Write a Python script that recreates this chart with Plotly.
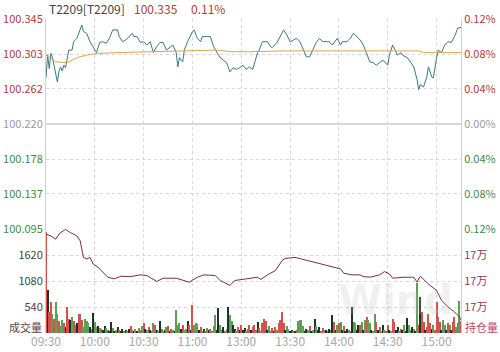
import plotly.graph_objects as go

# ---------------- data ----------------
tick_min = [0, 30, 60, 90, 120, 150, 180, 210, 240]
tick_labels = ["09:30", "10:00", "10:30", "11:00", "13:00", "13:30", "14:00", "14:30", "15:00"]

price_ticks = [100.095, 100.137, 100.178, 100.220, 100.262, 100.303, 100.345]
pct_labels = ["0.12%", "0.08%", "0.04%", "0.00%", "0.04%", "0.08%", "0.12%"]

price_min = [0, 1, 2, 3, 4, 7, 8, 9, 10, 11,
             12, 13, 14, 16, 17, 19, 21, 22, 23, 25,
             27, 29, 31, 33, 35, 37, 39, 41, 44, 45,
             47, 49, 50, 53, 54, 56, 58, 60, 62, 64,
             66, 68, 70, 72, 74, 76, 78, 80, 81, 82,
             84, 85, 87, 90, 91, 93, 95, 96, 99, 101,
             103, 105, 107, 109, 111, 113, 115, 117, 119, 121,
             123, 125, 127, 130, 131, 133, 136, 138, 139, 142,
             144, 146, 148, 150, 152, 154, 156, 158, 160, 162,
             164, 166, 168, 170, 173, 174, 176, 179, 181, 182,
             185, 187, 189, 191, 193, 195, 197, 199, 201, 203,
             205, 207, 210, 211, 213, 216, 218, 219, 222, 224,
             226, 228, 229, 230, 232, 234, 235, 237, 238, 240,
             241, 243, 245, 247, 249, 251, 253, 255]
price_val = [100.275, 100.302, 100.286, 100.304, 100.299, 100.270, 100.283, 100.288, 100.283, 100.290,
             100.287, 100.296, 100.308, 100.308, 100.318, 100.322, 100.332, 100.338, 100.330, 100.328,
             100.318, 100.312, 100.305, 100.317, 100.318, 100.316, 100.322, 100.332, 100.332, 100.324,
             100.318, 100.320, 100.322, 100.328, 100.324, 100.324, 100.317, 100.318, 100.314, 100.318,
             100.305, 100.312, 100.317, 100.317, 100.308, 100.311, 100.314, 100.305, 100.288, 100.299,
             100.294, 100.308, 100.318, 100.330, 100.332, 100.322, 100.318, 100.324, 100.324, 100.324,
             100.312, 100.306, 100.299, 100.296, 100.293, 100.282, 100.287, 100.285, 100.287, 100.290,
             100.285, 100.288, 100.285, 100.305, 100.308, 100.318, 100.318, 100.312, 100.311, 100.317,
             100.324, 100.332, 100.326, 100.318, 100.320, 100.322, 100.318, 100.308, 100.300, 100.300,
             100.308, 100.317, 100.322, 100.318, 100.318, 100.318, 100.314, 100.322, 100.314, 100.318,
             100.318, 100.322, 100.328, 100.324, 100.320, 100.314, 100.305, 100.294, 100.293, 100.290,
             100.293, 100.296, 100.290, 100.302, 100.314, 100.302, 100.305, 100.302, 100.299, 100.294,
             100.288, 100.273, 100.261, 100.267, 100.264, 100.276, 100.288, 100.276, 100.275, 100.299,
             100.308, 100.305, 100.314, 100.318, 100.317, 100.324, 100.334, 100.335]

avg_min = [0, 6, 13, 19, 25, 31, 44, 64, 95, 105, 115, 125, 146, 181, 229, 232, 255]
avg_val = [100.302, 100.294, 100.293, 100.299, 100.302, 100.304, 100.305, 100.306, 100.307,
           100.308, 100.306, 100.306, 100.307, 100.307, 100.307, 100.305, 100.305]

oi_min = [0, 3, 6, 8, 12, 15, 19, 21, 23, 25,
          27, 29, 32, 35, 38, 42, 46, 52, 58, 62,
          65, 68, 72, 80, 88, 93, 97, 104, 107, 113,
          116, 123, 128, 130, 132, 136, 141, 145, 147, 153,
          157, 165, 173, 181, 183, 188, 193, 195, 199, 205,
          208, 211, 213, 220, 226, 228, 230, 232, 236, 240,
          243, 247, 251, 254, 255]
oi_val = [172439, 172387, 172286, 172448, 172591, 172488, 172387, 172235, 171726, 171677,
          171726, 171524, 171421, 171268, 171116, 171067, 171146, 171137, 171189, 171168,
          171067, 170985, 171086, 171086, 170964, 171116, 171189, 171168, 171015, 170863,
          171015, 171067, 171116, 171116, 171046, 171189, 171320, 171625, 171695, 171726,
          171677, 171573, 171473, 171372, 171238, 171189, 171189, 171137, 171116, 171189,
          171290, 171220, 171086, 171116, 171116, 170964, 171146, 171046, 170863, 170711,
          170406, 170202, 170049, 169897, 169796]
oi_ticks = [170200, 171000, 171800]

vol_ticks = [540, 1080, 1620]
vols = [2100, 900, 440, 640, 400, 300, 640, 400, 250, 150, 280, 200, 120, 540, 300, 280,
        330, 250, 160, 200, 390, 390, 260, 120, 300, 250, 200, 130, 90, 420, 220, 130,
        150, 100, 90, 60, 140, 110, 60, 50, 220, 100, 40, 70, 120, 60, 40, 90,
        40, 60, 30, 80, 140, 60, 30, 90, 50, 110, 60, 150, 200, 90, 60, 130,
        60, 40, 200, 170, 60, 40, 240, 80, 30, 60, 115, 140, 50, 90, 60, 40,
        470, 170, 200, 80, 170, 60, 90, 240, 170, 60, 575, 170, 200, 180, 60, 120,
        50, 80, 40, 110, 60, 90, 40, 150, 370, 60, 510, 170, 60, 120, 40, 80,
        530, 370, 250, 170, 90, 40, 120, 60, 170, 60, 100, 40, 90, 170, 60, 120,
        170, 60, 230, 100, 40, 200, 300, 250, 60, 150, 50, 110, 40, 120, 60, 200,
        260, 430, 200, 60, 150, 90, 40, 60, 30, 40, 60, 250, 270, 270, 150, 40,
        90, 60, 150, 40, 60, 300, 150, 60, 120, 40, 100, 60, 70, 40, 90, 60,
        370, 230, 60, 170, 200, 230, 60, 150, 40, 90, 60, 40, 540, 230, 200, 60,
        170, 170, 230, 60, 270, 330, 270, 200, 60, 40, 390, 230, 60, 120, 40, 170,
        60, 40, 170, 60, 30, 300, 230, 60, 120, 40, 90, 60, 170, 40, 320, 170,
        60, 120, 90, 40, 1040, 170, 740, 440, 230, 60, 120, 390, 200, 90, 170, 60,
        650, 330, 230, 60, 270, 170, 60, 200, 170, 60, 230, 330, 120, 200, 675, 250]
vol_dir = ("rkrrgrggrggrkrrk" "grrkrrrggggkgkgg" "kgrkkgrkkgkgkrkk" "gkgkrrkgkgrgrkgr"
           "kggrkgkrgkgrkrgk" "grgkrggkrkrgggkr" "gkrgkrgggkkggkrg" "kggkkgrkrkkgrrkr"
           "rgkrgrrrkgrrkrgr" "rrrkggkkgkrggggk" "kgrkgkgkkrrgkrkg" "krkgrgkrkkgrkggk"
           "krgkgrggkrgrkrgk" "grrkgrrkkgrkgkkg" "gkgkgrkrrkrrrkgr" "rrrkggkrgkrrgrgr")
vol_min = list(range(len(vols)))

assert len(price_min) == len(price_val)
assert len(oi_min) == len(oi_val)
assert len(vols) == len(vol_dir)

# ---------------- styling ----------------
W, H = 500, 352
def fx(p): return p / W
def fy(p): return 1 - p / H

RED = "#b53a3a"
GREEN = "#3f8a3f"
GRAY = "#9a9a9a"
MAROON = "#9b3552"
FONT = "Noto Sans CJK SC, Noto Sans, sans-serif"
GRID = "#d6d6d6"

dir_color = {"r": "#d2524f", "g": "#5f9f55", "k": "#1f3428"}
bar_colors = [dir_color[c] for c in vol_dir]

def span(t, c):
    return f'<span style="color:{c}">{t}</span>'

price_colors = [GREEN, GREEN, GREEN, GRAY, RED, RED, RED]
price_text = [span(f"{v:.3f}", c) for v, c in zip(price_ticks, price_colors)]
pct_text = [span(t, c) for t, c in zip(pct_labels, price_colors)]
vol_text = [span(str(v), "#444") for v in vol_ticks]
oi_text = [span("17万", MAROON) for _ in oi_ticks]

fig = go.Figure()
fig.add_trace(go.Scatter(x=price_min, y=price_val, mode="lines",
                         line=dict(color="#3d7785", width=1), xaxis="x", yaxis="y"))
fig.add_trace(go.Scatter(x=avg_min, y=avg_val, mode="lines",
                         line=dict(color="#d8a64c", width=1), xaxis="x", yaxis="y"))
fig.add_trace(go.Scatter(x=price_min, y=price_val, mode="lines", hoverinfo="skip",
                         line=dict(color="rgba(0,0,0,0)", width=0), xaxis="x", yaxis="y2"))
fig.add_trace(go.Bar(x=vol_min, y=vols, marker=dict(color=bar_colors, line=dict(width=0)),
                     width=0.65, xaxis="x2", yaxis="y3"))
fig.add_trace(go.Scatter(x=oi_min, y=oi_val, mode="lines",
                         line=dict(color="#7a2c4c", width=1), xaxis="x2", yaxis="y4"))

xcommon = dict(domain=[fx(46), fx(461)], range=[0, 255], tickvals=tick_min,
               showgrid=True, gridcolor=GRID, griddash="dot", gridwidth=1, automargin=False,
               zeroline=False, ticks="", showline=False, fixedrange=True)
ycommon = dict(zeroline=False, ticks="", showline=True, linecolor="#d0d0d0", linewidth=1,
               automargin=False, tickfont=dict(size=11, family=FONT), fixedrange=True)

fig.update_layout(
    width=W, height=H, margin=dict(l=0, r=0, t=0, b=0, autoexpand=False),
    paper_bgcolor="white", plot_bgcolor="white", showlegend=False,
    font=dict(family=FONT, size=12, color="#444"),
    bargap=0,
    xaxis=dict(anchor="y", showticklabels=False, **xcommon),
    xaxis2=dict(anchor="y3", ticktext=tick_labels,
                tickfont=dict(size=12, color="#a8a8a8", family=FONT), **xcommon),
    yaxis=dict(domain=[fy(229), fy(19)], range=[100.095, 100.345], anchor="x", side="left",
               tickvals=price_ticks, ticktext=price_text,
               showgrid=True, gridcolor=GRID, griddash="dot", **ycommon),
    yaxis2=dict(overlaying="y", anchor="x", side="right", range=[100.095, 100.345],
                tickvals=price_ticks, ticktext=pct_text, showgrid=False, **ycommon),
    yaxis3=dict(domain=[fy(333), fy(229)], range=[0, 2160], anchor="x2", side="left",
                tickvals=vol_ticks, ticktext=vol_text,
                showgrid=True, gridcolor=GRID, griddash="dot", **ycommon),
    yaxis4=dict(overlaying="y3", anchor="x2", side="right", range=[169400, 172600],
                tickvals=oi_ticks, ticktext=oi_text, showgrid=False, **ycommon),
)

fig.add_shape(type="line", xref="paper", yref="y", x0=fx(46), x1=fx(461),
              y0=100.220, y1=100.220, line=dict(color="#d6d6d6", width=2))

ann = [
    dict(text="T2209[T2209]", x=fx(47), y=fy(9), xanchor="left", font=dict(color="#444", size=12)),
    dict(text="100.335", x=fx(132), y=fy(9), xanchor="left", font=dict(color=RED, size=12)),
    dict(text="0.11%", x=fx(189), y=fy(9), xanchor="left", font=dict(color=RED, size=12)),
    dict(text="成交量", x=fx(44), y=fy(327), xanchor="right", font=dict(color="#5a4646", size=11)),
    dict(text="持仓量", x=fx(463), y=fy(327), xanchor="left", font=dict(color="#c4456a", size=11)),
    dict(text="<b>Wind</b>", x=fx(395), y=fy(300), xanchor="center",
         font=dict(color="rgba(190,190,190,0.22)", size=40, family="DejaVu Sans")),
]
for a in ann:
    fig.add_annotation(xref="paper", yref="paper", yanchor="middle", showarrow=False, **a)

fig.write_html("out.html")
